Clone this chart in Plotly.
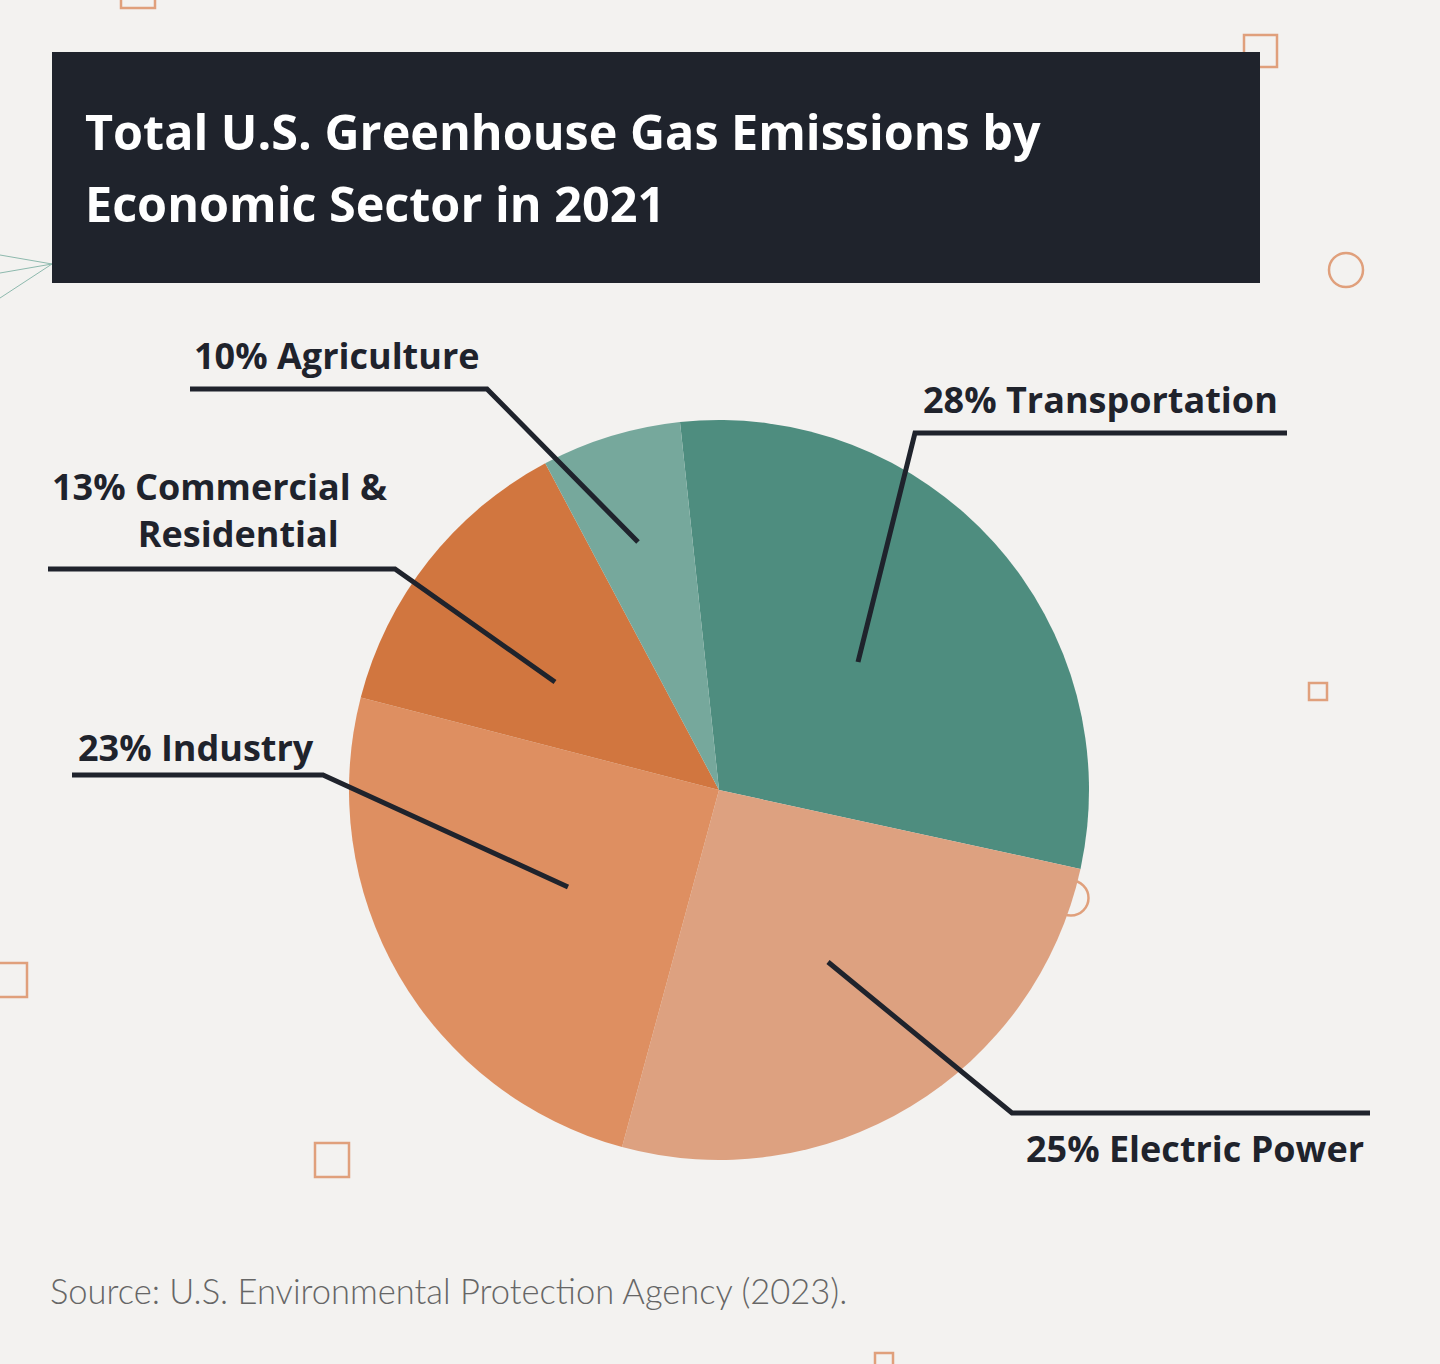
import plotly.graph_objects as go

W, H = 1440, 1364

# ---- data ----
sectors = ["Transportation", "Electric Power", "Industry", "Commercial & Residential", "Agriculture"]
label_pct = [28, 25, 23, 13, 10]                 # percentages printed on the labels
slice_shares = [30.1, 25.8, 24.8, 13.2, 6.1]     # slice sizes as drawn in the picture
slice_colors = ["#4E8D7F", "#DDA180", "#DE8F61", "#D1763F", "#76A89C"]

BG = "#F3F2F0"
DARK = "#1F232C"
DECO = "#E0A07C"

fig = go.Figure()

# pie: centre (719, 790), radius 370 px
cx, cy, r = 719, 790, 370
fig.add_trace(go.Pie(
    labels=sectors, values=slice_shares, sort=False, direction="clockwise",
    rotation=-6.05, marker=dict(colors=slice_colors, line=dict(width=0)),
    textinfo="none", hoverinfo="label", showlegend=False,
    domain=dict(x=[(cx - r) / W, (cx + r) / W], y=[(H - cy - r) / H, (H - cy + r) / H]),
))

shapes = []
def rect(x0, y0, x1, y1, **kw):
    shapes.append(dict(type="rect", xref="x", yref="y", x0=x0, y0=y0, x1=x1, y1=y1, **kw))

def circ(x, y, rr):
    shapes.append(dict(type="circle", xref="x", yref="y", x0=x - rr, y0=y - rr, x1=x + rr, y1=y + rr,
                       line=dict(color=DECO, width=2.5), layer="below"))

# decorative squares / circles
for (x0, y0, x1, y1) in [(121, -26, 155, 8), (1244, 35, 1277, 67), (1309, 683, 1327, 700),
                         (-10, 963, 27, 997), (315, 1143, 349, 1177), (875, 1353, 893, 1372)]:
    rect(x0, y0, x1, y1, line=dict(color=DECO, width=2.5), layer="below")
circ(1346, 270, 17)
circ(1071, 898, 17.5)

# green fan lines on the left
for (xa, ya) in [(0, 255), (0, 273), (0, 298)]:
    shapes.append(dict(type="line", xref="x", yref="y", x0=xa, y0=ya, x1=52, y1=264,
                       line=dict(color="#8DB9AD", width=1), layer="below"))

# title box
rect(52, 52, 1260, 283, fillcolor=DARK, line=dict(width=0), layer="above")

# leader lines
leaders = [
    [(190, 389), (487, 389), (638, 542)],
    [(1287, 433), (915, 433), (858, 662)],
    [(48, 569), (395, 569), (555, 682)],
    [(72, 775), (323, 775), (568, 887)],
    [(1370, 1113), (1012, 1113), (828, 962)],
]
for pts in leaders:
    path = "M " + " L ".join(f"{x},{y}" for x, y in pts)
    shapes.append(dict(type="path", xref="x", yref="y", path=path,
                       line=dict(color=DARK, width=5), layer="above"))

LABEL_FONT = dict(family="Open Sans", size=36, color=DARK, weight=700)
TITLE_FONT = dict(family="Open Sans", size=48.5, color="white", weight=700)
NB = "\u00a0"
annotations = [
    dict(x=83, y=131, text="Total U.S. Greenhouse Gas Emissions by", xanchor="left", yanchor="middle", font=TITLE_FONT),
    dict(x=83, y=203, text="Economic Sector in 2021", xanchor="left", yanchor="middle", font=TITLE_FONT),
    dict(x=337, y=355, text=f"{label_pct[4]}% {sectors[4]}", xanchor="center", yanchor="middle", font=LABEL_FONT),
    dict(x=1280, y=399, text=f"{label_pct[0]}% {sectors[0]}", xanchor="right", yanchor="middle", font=LABEL_FONT),
    dict(x=238, y=510, text=f"{label_pct[3]}% Commercial &{NB * 4}<br>Residential", align="center",
         xanchor="center", yanchor="middle", font=LABEL_FONT),
    dict(x=76, y=747, text=f"{label_pct[2]}% {sectors[2]}", xanchor="left", yanchor="middle", font=LABEL_FONT),
    dict(x=1366, y=1148, text=f"{label_pct[1]}% {sectors[1]}", xanchor="right", yanchor="middle", font=LABEL_FONT),
    dict(x=48, y=1290, text="Source: U.S. Environmental Protection Agency (2023).", xanchor="left", yanchor="middle",
         font=dict(family="Lato", size=34.5, color="#666666", weight=300)),
]
for a in annotations:
    a.update(xref="x", yref="y", showarrow=False)

fig.update_layout(
    width=W, height=H, margin=dict(l=0, r=0, t=0, b=0),
    paper_bgcolor=BG, plot_bgcolor=BG,
    xaxis=dict(range=[0, W], visible=False, fixedrange=True),
    yaxis=dict(range=[H, 0], visible=False, fixedrange=True),
    shapes=shapes, annotations=annotations,
)
fig.write_html("out.html")
